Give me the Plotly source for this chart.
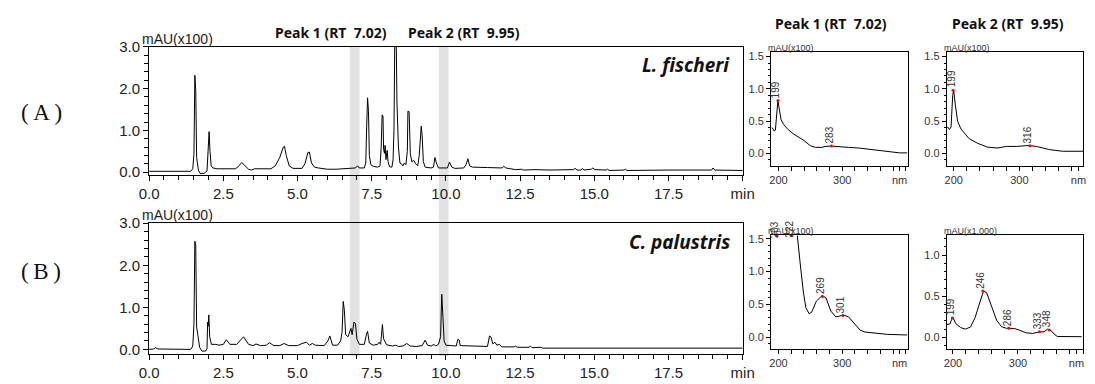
import plotly.graph_objects as go

W, H = 1095, 384

# ---------------- data ----------------
# Chromatogram (A) L. fischeri : time (min), absorbance (mAU x100)
A_t = [0.0, 1.40, 1.47, 1.51, 1.54, 1.57, 1.60, 1.66, 1.72, 1.85, 1.95, 1.99, 2.02, 2.05, 2.09,
       2.15, 2.30, 2.90, 3.00, 3.12, 3.22, 3.35, 3.45, 3.55, 4.10, 4.25, 4.40, 4.52, 4.56, 4.62,
       4.72, 4.85, 5.15, 5.25, 5.35, 5.40, 5.47, 5.57, 5.70, 6.00, 6.30, 6.60, 6.95, 7.02, 7.08,
       7.25, 7.30, 7.33, 7.36, 7.39, 7.42, 7.47, 7.55, 7.70, 7.78, 7.82, 7.85, 7.88, 7.90, 7.93,
       7.95, 7.98, 8.02, 8.05, 8.10, 8.18, 8.22, 8.25, 8.28, 8.32, 8.35, 8.40, 8.45, 8.50, 8.55,
       8.60, 8.65, 8.70, 8.72, 8.76, 8.80, 8.85, 8.92, 8.98, 9.05, 9.10, 9.14, 9.17, 9.20, 9.24,
       9.30, 9.50, 9.58, 9.63, 9.68, 9.75, 10.05, 10.12, 10.20, 10.30, 10.60, 10.68, 10.74, 10.80,
       10.90, 11.30, 11.40, 11.90, 11.95, 12.02, 12.30, 12.35, 12.55, 12.60, 13.00, 13.50, 14.30,
       14.35, 14.42, 14.55, 14.60, 14.65, 14.90, 14.95, 15.02, 15.40, 15.45, 15.50, 16.00, 16.05,
       16.10, 17.00, 17.50, 18.95, 19.00, 19.06, 20.0]
A_y = [0.02, 0.02, 0.08, 0.45, 2.32, 1.96, 0.35, 0.05, -0.03, -0.03, 0.03, 0.85, 0.97, 0.50, 0.15,
       0.10, 0.08, 0.08, 0.13, 0.23, 0.15, 0.07, 0.05, 0.08, 0.08, 0.15, 0.35, 0.60, 0.62, 0.40,
       0.15, 0.09, 0.09, 0.20, 0.47, 0.48, 0.22, 0.12, 0.10, 0.07, 0.07, 0.08, 0.10, 0.15, 0.10,
       0.10, 0.22, 1.10, 1.78, 1.46, 0.40, 0.18, 0.14, 0.12, 0.15, 0.60, 1.37, 1.35, 0.55, 0.45,
       0.64, 0.30, 0.52, 0.25, 0.13, 0.12, 0.30, 1.00, 3.40, 3.50, 1.68, 0.60, 0.22, 0.20, 0.15,
       0.22, 0.18, 0.50, 1.46, 1.45, 0.45, 0.25, 0.28, 0.20, 0.15, 0.40, 0.85, 1.10, 0.87, 0.25,
       0.12, 0.10, 0.12, 0.35, 0.22, 0.10, 0.10, 0.24, 0.12, 0.09, 0.10, 0.18, 0.32, 0.15,
       0.12, 0.12, 0.11, 0.10, 0.14, 0.10, 0.08, 0.06, 0.07, 0.05, 0.06, 0.05, 0.06,
       0.09, 0.05, 0.05, 0.09, 0.05, 0.07, 0.10, 0.06, 0.05, 0.07, 0.04, 0.05, 0.07,
       0.04, 0.05, 0.05, 0.05, 0.10, 0.05, 0.04]

# Chromatogram (B) C. palustris
B_t = [0.0, 0.15, 0.21, 0.30, 1.40, 1.47, 1.51, 1.54, 1.57, 1.60, 1.64, 1.70, 1.78, 1.90, 1.95,
       1.97, 1.99, 2.01, 2.04, 2.10, 2.25, 2.35, 2.50, 2.60, 2.72, 2.95, 3.18, 3.35, 3.50, 3.60,
       3.75, 3.95, 4.05, 4.20, 4.40, 4.55, 4.70, 5.00, 5.15, 5.30, 5.40, 5.50, 5.60, 5.90, 6.02,
       6.09, 6.18, 6.35, 6.45, 6.50, 6.54, 6.58, 6.62, 6.70, 6.80, 6.84, 6.90, 6.95, 7.00, 7.08,
       7.25, 7.32, 7.36, 7.42, 7.55, 7.70, 7.75, 7.80, 7.83, 7.86, 7.90, 8.00, 8.20, 8.30, 8.40,
       8.55, 8.68, 8.80, 9.00, 9.20, 9.30, 9.38, 9.50, 9.60, 9.65, 9.75, 9.82, 9.86, 9.90, 9.94,
       10.00, 10.35, 10.40, 10.45, 10.48, 11.40, 11.47, 11.52, 11.58, 11.65, 11.72, 11.80, 11.88,
       12.30, 12.35, 12.40, 12.80, 12.85, 12.90, 13.15, 13.20, 13.25, 20.0]
B_y = [0.0, 0.01, 0.04, 0.01, 0.0, 0.08, 0.60, 2.57, 2.48, 0.53, 0.35, 0.05, -0.04, -0.04, 0.02,
       0.65, 0.55, 0.82, 0.30, 0.12, 0.12, 0.10, 0.12, 0.23, 0.12, 0.12, 0.30, 0.12, 0.09, 0.13,
       0.09, 0.10, 0.16, 0.09, 0.09, 0.14, 0.09, 0.09, 0.14, 0.17, 0.10, 0.14, 0.10, 0.09, 0.20,
       0.32, 0.10, 0.10, 0.20, 0.40, 1.14, 0.92, 0.35, 0.30, 0.50, 0.35, 0.65, 0.62, 0.25, 0.12,
       0.12, 0.35, 0.43, 0.15, 0.10, 0.12, 0.17, 0.12, 0.45, 0.59, 0.25, 0.11, 0.08, 0.10, 0.07,
       0.08, 0.14, 0.08, 0.07, 0.09, 0.22, 0.10, 0.08, 0.12, 0.08, 0.12, 0.30, 1.31, 0.76, 0.20,
       0.10, 0.08, 0.24, 0.22, 0.09, 0.07, 0.32, 0.29, 0.13, 0.17, 0.10, 0.12, 0.06,
       0.06, 0.08, 0.05, 0.05, 0.08, 0.04, 0.04, 0.05, 0.03, 0.03]

chrom_tickvals = [0, 2.5, 5, 7.5, 10, 12.5, 15, 17.5, 20]
chrom_ticktext = ["0.0", "2.5", "5.0", "7.5", "10.0", "12.5", "15.0", "17.5", "min"]
chrom_yvals = [0, 1, 2, 3]
chrom_ytext = ["0.0", "1.0", "2.0", "3.0"]

band_t0 = [6.76, 9.76]
band_t1 = [7.09, 10.09]

# UV spectra: wavelength (nm), absorbance
S1A_wl = [190, 193, 195, 197, 199, 201, 204, 208, 215, 224, 240, 250, 258, 268, 273, 283, 295,
          310, 326, 340, 357, 375, 390, 402]
S1A_ab = [0.40, 0.35, 0.36, 0.60, 0.82, 0.70, 0.52, 0.45, 0.37, 0.30, 0.20, 0.12, 0.095, 0.095,
          0.11, 0.115, 0.11, 0.095, 0.085, 0.07, 0.05, 0.03, 0.01, 0.01]
S1A_pk = [199, 283]
S1A_pky = [0.82, 0.115]

S2A_wl = [190, 191, 193.5, 196, 198.5, 200, 202.5, 206, 211, 223.5, 236, 251, 266, 281, 296,
          313.5, 326, 346, 366, 398]
S2A_ab = [0.40, 0.41, 0.37, 0.41, 0.90, 0.98, 0.75, 0.50, 0.38, 0.23, 0.16, 0.10, 0.085, 0.11,
          0.11, 0.124, 0.11, 0.06, 0.035, 0.035]
S2A_pk = [199, 316]
S2A_pky = [0.98, 0.122]

S1B_wl = [188, 205, 222, 229, 234, 239, 243, 248, 252, 259.4, 268.5, 274.6, 282, 290, 295,
          301.5, 310, 320, 328, 335.5, 350.8, 371, 402]
S1B_ab = [1.90, 2.40, 2.00, 1.60, 1.13, 0.69, 0.45, 0.36, 0.38, 0.55, 0.635, 0.60, 0.40, 0.31,
          0.32, 0.34, 0.31, 0.20, 0.11, 0.08, 0.06, 0.044, 0.035]
S1B_pk = [269, 301]
S1B_pky = [0.62, 0.33]
S1B_top_pk = ["203", "222"]
S1B_top_wl = [197.5, 220]

S2B_wl = [190, 191.4, 195.5, 198, 200.5, 204, 211.6, 219, 227, 234, 242, 247, 252, 259.6, 267,
          274.7, 282, 287, 295, 302.5, 312.6, 322.7, 333, 340, 345.5, 350.5, 355.5, 360.6, 398]
S2B_ab = [0.155, 0.157, 0.165, 0.22, 0.235, 0.17, 0.12, 0.10, 0.125, 0.24, 0.45, 0.565, 0.54,
          0.37, 0.21, 0.13, 0.11, 0.11, 0.106, 0.086, 0.055, 0.047, 0.067, 0.067, 0.10, 0.086,
          0.04, 0.01, 0.008]
S2B_pk = [199, 246, 286, 333, 348]
S2B_pky = [0.235, 0.565, 0.11, 0.067, 0.09]

spec_xvals = [200, 300, 390]
spec_xtext = ["200", "300", "nm"]

# ---------------- helpers ----------------
def px(x):
    return x / W


def py(y):
    return 1 - y / H


TICKC = "#222"
fig = go.Figure()

line = dict(color="black", width=1)
fig.add_trace(go.Scatter(x=A_t, y=A_y, mode="lines", line=line, xaxis="x", yaxis="y", showlegend=False))
fig.add_trace(go.Scatter(x=B_t, y=B_y, mode="lines", line=line, xaxis="x2", yaxis="y2", showlegend=False))

spectra = [
    (S1A_wl, S1A_ab, S1A_pk, S1A_pky, "3"),
    (S2A_wl, S2A_ab, S2A_pk, S2A_pky, "4"),
    (S1B_wl, S1B_ab, S1B_pk, S1B_pky, "5"),
    (S2B_wl, S2B_ab, S2B_pk, S2B_pky, "6"),
]
annotations = []
for wl, ab, pk, pky, n in spectra:
    fig.add_trace(go.Scatter(x=wl, y=ab, mode="lines", line=dict(color="black", width=1),
                             xaxis="x" + n, yaxis="y" + n, showlegend=False))
    fig.add_trace(go.Scatter(x=pk, y=pky, mode="markers", marker=dict(color="red", size=3),
                             xaxis="x" + n, yaxis="y" + n, showlegend=False, cliponaxis=False))
    for w, v in zip(pk, pky):
        annotations.append(dict(x=w, y=v, xref="x" + n, yref="y" + n, text=str(w), showarrow=False,
                                textangle=-90, xanchor="center", yanchor="middle", yshift=11,
                                xshift=-2, font=dict(family="Liberation Sans", size=10, color="#333")))

# clipped peak labels at top of panel (B) peak 1
fig.add_trace(go.Scatter(x=S1B_top_wl, y=[1.55, 1.55], mode="markers", marker=dict(color="red", size=3),
                         xaxis="x5", yaxis="y5", showlegend=False, cliponaxis=False))
for w, t in zip(S1B_top_wl, S1B_top_pk):
    annotations.append(dict(x=w, y=1.55, xref="x5", yref="y5", text=t, showarrow=False, textangle=-90,
                            xanchor="center", yanchor="middle", yshift=6, xshift=-2,
                            font=dict(family="Liberation Sans", size=10, color="#333")))


def chrom_x(dom, anchor):
    return dict(domain=dom, anchor=anchor, range=[0, 20], tickmode="array", tickvals=chrom_tickvals,
                ticktext=chrom_ticktext, ticks="outside", ticklen=5, tickcolor="black",
                minor=dict(dtick=0.5, tick0=0, ticks="outside", ticklen=4, tickcolor="black", showgrid=False),
                showline=True, linecolor="black", linewidth=1, mirror=True, showgrid=False, zeroline=False,
                tickfont=dict(family="Liberation Sans", size=15, color=TICKC))


def chrom_y(dom, anchor, rng):
    return dict(domain=dom, anchor=anchor, range=rng, tickmode="array", tickvals=chrom_yvals,
                ticktext=chrom_ytext, ticks="outside", ticklen=5, tickcolor="black",
                minor=dict(dtick=0.2, tick0=0, ticks="outside", ticklen=4, tickcolor="black", showgrid=False),
                showline=True, linecolor="black", linewidth=1, mirror=True, showgrid=False, zeroline=False,
                tickfont=dict(family="Liberation Sans", size=15, color=TICKC))


def spec_x(dom, anchor, rng):
    return dict(domain=dom, anchor=anchor, range=rng, tickmode="array", tickvals=spec_xvals,
                ticktext=spec_xtext, ticks="outside", ticklen=4, tickcolor="black",
                minor=dict(dtick=20, tick0=200, ticks="outside", ticklen=4, tickcolor="black", showgrid=False),
                showline=True, linecolor="black", linewidth=1, mirror=True, showgrid=False, zeroline=False,
                tickfont=dict(family="Liberation Sans", size=11, color="#333"))


def spec_y(dom, anchor, rng):
    return dict(domain=dom, anchor=anchor, range=rng, tickmode="linear", tick0=0, dtick=0.5,
                tickformat=".1f", ticks="outside", ticklen=4, tickcolor="black",
                minor=dict(dtick=0.1, tick0=0, ticks="outside", ticklen=2, tickcolor="black", showgrid=False),
                showline=True, linecolor="black", linewidth=1, mirror=True, showgrid=False, zeroline=False,
                tickfont=dict(family="Liberation Sans", size=11, color="#333"))


yA = [py(172.7), py(39.3)]
yB = [py(358.3), py(222.3)]
xC = [px(142), px(747.7)]
ySA = [py(163), py(45)]
ySB = [py(352.7), py(235)]
xS1 = [px(776.7), px(916)]
xS2 = [px(956), 1.0]

layout = dict(
    width=W, height=H, margin=dict(l=0, r=0, t=0, b=0),
    paper_bgcolor="white", plot_bgcolor="rgba(0,0,0,0)", showlegend=False,
    xaxis=chrom_x(xC, "y"), yaxis=chrom_y(yA, "x", [-0.078, 3.0]),
    xaxis2=chrom_x(xC, "y2"), yaxis2=chrom_y(yB, "x2", [-0.115, 3.0]),
    xaxis3=spec_x(xS1, "y3", [188.3, 402.6]), yaxis3=spec_y(ySA, "x3", [-0.194, 1.565]),
    xaxis4=spec_x(xS2, "y4", [189.5, 397]), yaxis4=spec_y(ySA, "x4", [-0.194, 1.565]),
    xaxis5=spec_x(xS1, "y5", [188.4, 402.6]), yaxis5=spec_y(ySB, "x5", [-0.176, 1.55]),
    xaxis6=spec_x(xS2, "y6", [190.5, 400]), yaxis6=spec_y(ySB, "x6", [-0.14, 1.24]),
)
fig.update_layout(**layout)

# grey bands marking the two peaks across both chromatograms
for t0, t1 in zip(band_t0, band_t1):
    fig.add_shape(type="rect", xref="x", yref="paper", x0=t0, x1=t1, y0=py(360), y1=py(39),
                  fillcolor="#e2e2e2", line=dict(width=0), layer="below")

bold = dict(family="Noto Sans", size=14, color="#111")
texts = [
    ("Peak 1 (RT\u00a0\u00a07.02)", px(328), py(24), "center", bold),
    ("Peak 2 (RT\u00a0\u00a09.95)", px(463), py(24), "center", bold),
    ("Peak 1 (RT\u00a0\u00a07.02)", px(838), py(15), "center", bold),
    ("Peak 2 (RT\u00a0\u00a09.95)", px(1018), py(15), "center", bold),
]
for t, x, y, xa, f in texts:
    annotations.append(dict(text="<b>" + t + "</b>", x=x, y=y, xref="paper", yref="paper", xanchor=xa,
                            yanchor="middle", showarrow=False, font=f))

species = dict(family="Noto Sans", size=19, color="#111")
annotations.append(dict(text="<b><i>L. fischeri</i></b>", x=px(737), y=py(58), xref="paper", yref="paper",
                        xanchor="right", yanchor="middle", showarrow=False, font=species))
annotations.append(dict(text="<b><i>C. palustris</i></b>", x=px(737), y=py(242), xref="paper", yref="paper",
                        xanchor="right", yanchor="middle", showarrow=False, font=species))

serif = dict(family="Liberation Serif", size=23, color="#111")
annotations.append(dict(text="(\u2009A\u2009)", x=px(32), y=py(107), xref="paper", yref="paper", xanchor="center",
                        yanchor="middle", showarrow=False, font=serif))
annotations.append(dict(text="(\u2009B\u2009)", x=px(32), y=py(272), xref="paper", yref="paper", xanchor="center",
                        yanchor="middle", showarrow=False, font=serif))

unit_big = dict(family="Liberation Sans", size=14, color=TICKC)
annotations.append(dict(text="mAU(x100)", x=px(133), y=py(31), xref="paper", yref="paper", xanchor="left",
                        yanchor="middle", showarrow=False, font=unit_big))
annotations.append(dict(text="mAU(x100)", x=px(133), y=py(214), xref="paper", yref="paper", xanchor="left",
                        yanchor="middle", showarrow=False, font=unit_big))
unit_small = dict(family="Liberation Sans", size=9, color="#333")
for x, y, t in [(772, 40, "mAU(x100)"), (951, 40, "mAU(x100)"), (772, 230, "mAU(x100)"),
                (951, 230, "mAU(x1,000)")]:
    annotations.append(dict(text=t, x=px(x), y=py(y), xref="paper", yref="paper", xanchor="left",
                            yanchor="middle", showarrow=False, font=unit_small))

fig.update_layout(annotations=annotations)
fig.write_html("out.html")
